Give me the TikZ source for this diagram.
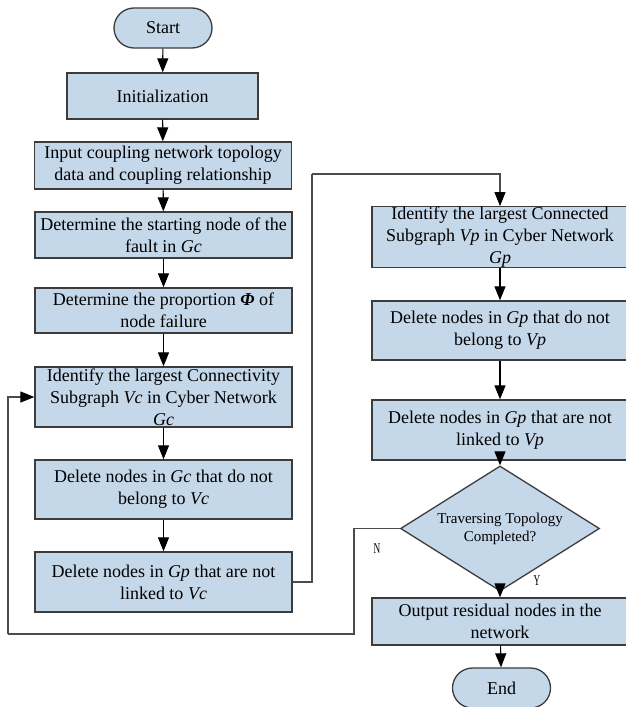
\documentclass[tikz,border=0pt]{standalone}
\usepackage{fontspec}
\setmainfont{Liberation Serif}
\usepackage{graphicx}
\usepackage{tikz}
\usetikzlibrary{arrows.meta,shapes.geometric}
\definecolor{boxblue}{RGB}{197,216,234}
\definecolor{edgegray}{RGB}{60,60,60}
\newcommand*{\narrowtag}[1]{\scalebox{0.62}[1]{#1}}
\tikzset{
  procbox/.style={draw=edgegray, line width=1.3pt, fill=boxblue, rectangle,
    align=center, inner xsep=2pt, inner ysep=0pt,
    minimum width=257pt, font=\fontsize{18}{22}\selectfont},
  termbox/.style={draw=edgegray, line width=1.3pt, fill=boxblue, rectangle,
    rounded corners=20pt, minimum width=98pt, minimum height=40pt,
    font=\fontsize{18}{22}\selectfont},
  decbox/.style={draw=edgegray, line width=1.3pt, fill=boxblue, diamond,
    align=center, inner sep=-8pt, minimum width=199pt, minimum height=71pt,
    font=\fontsize{15}{18}\selectfont},
  flow/.style={draw=black, line width=1.1pt, -{Triangle[length=14pt,width=11pt,color=black]}},
  loopline/.style={draw=black!70, line width=1.1pt},
  yesno/.style={font=\fontsize{15}{15}\selectfont, inner sep=0pt}
}

\begin{document}
\begin{tikzpicture}[x=1pt,y=-1pt]
  \useasboundingbox (0,0) rectangle (625,707);

  \node [termbox] (start) at (163,28) {Start};
  \node [procbox, minimum width=191pt, minimum height=46pt] (init) at (162.5,96) {Initialization};
  \node [procbox, minimum height=47pt] (input) at (163,165.5)
    {Input coupling network topology\\data and coupling relationship};
  \node [procbox, minimum height=46pt] (fault) at (163.5,235)
    {Determine the starting node of the\\fault in \textit{Gc}};
  \node [procbox, minimum height=45pt] (prop) at (163.5,310.5)
    {Determine the proportion \textbf{\textit{Φ}} of\\node failure};
  \node [procbox, minimum height=60pt] (idvc) at (163.5,397)
    {Identify the largest Connectivity\\Subgraph \textit{Vc} in Cyber Network\\\textit{Gc}};
  \node [procbox, minimum height=59pt] (delgc) at (163.5,489.5)
    {Delete nodes in \textit{Gc} that do not\\belong to \textit{Vc}};
  \node [procbox, minimum height=60pt] (delgp) at (163.5,582)
    {Delete nodes in \textit{Gp} that are not\\linked to \textit{Vc}};

  \node [procbox, minimum width=256pt, minimum height=60pt] (idvp) at (500,237)
    {Identify the largest Connected\\Subgraph \textit{Vp} in Cyber Network\\\textit{Gp}};
  \node [procbox, minimum width=256pt, minimum height=59pt] (delvp) at (500,330.5)
    {Delete nodes in \textit{Gp} that do not\\belong to \textit{Vp}};
  \node [procbox, minimum width=256pt, minimum height=60pt] (lnkvp) at (500,430)
    {Delete nodes in \textit{Gp} that are not\\linked to \textit{Vp}};
  \node [decbox] (check) at (500,528.5) {Traversing Topology\\Completed?};
  \node [procbox, minimum width=256pt, minimum height=47pt] (out) at (500,621.5)
    {Output residual nodes in the\\network};
  \node [termbox] (end) at (501.5,688) {End};

  \foreach \a/\b in {start/init, init/input, input/fault, fault/prop, prop/idvc,
      idvc/delgc, delgc/delgp, idvp/delvp, delvp/lnkvp, lnkvp/check, check/out, out/end}
    \draw [flow] (\a) -- (\b);

  \coordinate (upturn) at (312,174);
  \coordinate (ndown) at (354,634);
  \coordinate (nleft) at (8,634);
  \draw [loopline] (delgp.east) -| (upturn);
  \draw [flow, draw=black!70] (upturn) -| (idvp.north);
  \draw [loopline] (check.west) -| (ndown) -- (nleft);
  \draw [flow, draw=black!70] (nleft) |- (idvc.west);

  \node [yesno] (nlabel) at (377,549) {\narrowtag{N}};
  \node [yesno] (ylabel) at (537,581) {\narrowtag{Y}};
\end{tikzpicture}
\end{document}
